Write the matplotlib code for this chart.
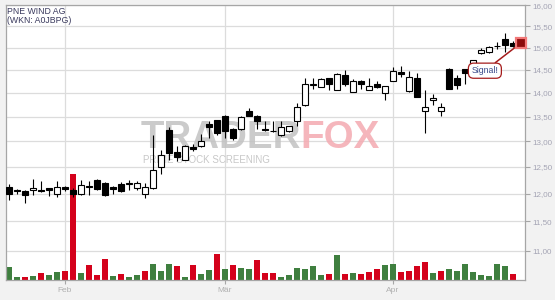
import numpy as np
import matplotlib
matplotlib.use("Agg")
import matplotlib.pyplot as plt
import matplotlib.transforms as mtransforms
from matplotlib.ticker import FixedLocator, FuncFormatter, NullLocator

plt.rcParams["font.family"] = ["Liberation Sans", "DejaVu Sans"]

TITLE = "PNE WIND AG\n(WKN: A0JBPG)"

# daily candles, EUR
OPENS = [12.12, 12.07, 12.04, 12.06, 12.07, 12.10, 11.99, 12.13, 12.06, 11.99,
         12.14, 12.26, 12.20, 12.12, 12.18, 12.17, 12.11, 11.99, 12.10, 12.49,
         13.23, 12.79, 12.64, 12.88, 12.90, 13.35, 13.43, 13.52, 13.25, 13.24,
         13.61, 13.52, 13.25, 13.21, 13.12, 13.21, 13.40, 13.74, 14.17, 14.13,
         14.32, 14.06, 14.38, 14.01, 14.26, 14.06, 14.20, 13.99, 14.26, 14.46,
         14.03, 14.32, 13.62, 13.84, 13.62, 14.52, 14.32, 14.51, 14.50, 14.89,
         14.91, 15.05, 15.19, 15.11]
HIGHS = [12.18, 12.09, 12.07, 12.27, 12.24, 12.11, 12.24, 12.15, 12.10, 12.25,
         12.24, 12.27, 12.21, 12.14, 12.22, 12.25, 12.24, 12.20, 13.12, 12.83,
         13.28, 12.90, 12.92, 12.95, 13.15, 13.41, 13.44, 13.53, 13.26, 13.51,
         13.68, 13.53, 13.41, 13.40, 13.40, 13.31, 13.79, 14.32, 14.32, 14.31,
         14.33, 14.42, 14.50, 14.30, 14.28, 14.33, 14.26, 14.15, 14.57, 14.58,
         14.48, 14.43, 14.06, 13.98, 13.78, 14.54, 14.39, 14.52, 14.73, 14.99,
         15.03, 15.13, 15.35, 15.15]
LOWS = [11.89, 11.99, 11.83, 11.97, 12.03, 11.96, 11.93, 12.04, 11.93, 11.98,
        11.98, 12.07, 11.96, 11.99, 12.03, 12.07, 12.07, 11.92, 12.09, 12.36,
        12.63, 12.61, 12.63, 12.80, 12.89, 13.06, 13.13, 13.07, 13.03, 13.23,
        13.51, 13.25, 13.21, 13.18, 13.11, 13.18, 13.30, 13.73, 14.09, 14.12,
        14.06, 14.05, 14.15, 14.01, 14.09, 14.05, 14.10, 13.85, 14.25, 14.35,
        14.02, 13.91, 13.17, 13.74, 13.51, 14.08, 14.09, 14.18, 14.47, 14.86,
        14.89, 14.98, 14.90, 15.02]
CLOSES = [11.99, 12.04, 11.97, 12.10, 12.05, 12.07, 12.13, 12.08, 11.99, 12.16,
          12.13, 12.08, 11.98, 12.09, 12.04, 12.19, 12.20, 12.12, 12.45, 12.73,
          12.77, 12.70, 12.91, 12.85, 13.01, 13.29, 13.17, 13.21, 13.06, 13.49,
          13.52, 13.41, 13.22, 13.20, 13.28, 13.30, 13.71, 14.18, 14.19, 14.30,
          14.18, 14.41, 14.18, 14.26, 14.18, 14.15, 14.13, 14.14, 14.48, 14.41,
          14.35, 13.92, 13.69, 13.88, 13.70, 14.09, 14.17, 14.42, 14.72, 14.95,
          15.02, 15.03, 15.06, 15.04]
# volume, thousand shares
VOLUMES = [52, 12, 12, 16, 28, 20, 32, 36, 424, 28,
           60, 20, 84, 16, 24, 12, 20, 36, 64, 36,
           64, 56, 12, 60, 24, 40, 104, 44, 60, 48,
           44, 80, 28, 28, 12, 20, 48, 44, 56, 20,
           24, 100, 24, 28, 24, 32, 44, 60, 64, 32,
           36, 56, 72, 28, 36, 44, 36, 64, 32, 20,
           16, 64, 56, 24]

MONTH_POS = [7, 27, 48]
MONTH_LABELS = ["Feb", "Mär", "Apr"]
PRICE_TICKS = [11.0, 11.5, 12.0, 12.5, 13.0, 13.5, 14.0, 14.5, 15.0, 15.5, 16.0]
SIGNAL_PRICE = 15.11

UP_GREEN = "#3f7f3f"
DOWN_RED = "#d4011b"
GRID = "#dcdcdc"
AXIS_GRAY = "#a6a6a6"
LABEL_GRAY = "#a4a4b4"


def main():
    fig = plt.figure(figsize=(5.55, 3.0), dpi=100, facecolor="#f2f2f2")
    ax_vol = fig.add_axes([0.0103, 0.0667, 0.9362, 0.9157], facecolor="white")
    ax = ax_vol.twinx()

    x = np.arange(len(CLOSES))
    o = np.array(OPENS)
    c = np.array(CLOSES)

    # volume bars, coloured by close vs previous close
    vol_colors = [UP_GREEN if i == 0 or c[i] >= c[i - 1] else DOWN_RED for i in x]
    ax_vol.bar(x, VOLUMES, width=0.75, color=vol_colors, zorder=2)
    ax_vol.set_ylim(0, 1098)
    ax_vol.set_xlim(-0.41, 64.54)

    # price axis (log)
    ax.set_yscale("log")
    ax.set_ylim(10.516, 16.005)
    ax.yaxis.set_major_locator(FixedLocator(PRICE_TICKS))
    ax.yaxis.set_minor_locator(NullLocator())
    ax.yaxis.set_major_formatter(FuncFormatter(lambda v, _: f"{v:.2f}".replace(".", ",")))
    ax.tick_params(axis="y", colors=AXIS_GRAY, labelcolor=LABEL_GRAY, labelsize=5.8,
                   length=3.6, width=0.8, pad=1.5)
    for s in ax.spines.values():
        s.set_visible(False)

    # grid: price levels and month starts, drawn under the volume bars
    trans = mtransforms.blended_transform_factory(ax_vol.transAxes, ax.transData)
    for p in PRICE_TICKS:
        ax_vol.plot([0, 1], [p, p], transform=trans, color=GRID, lw=0.9, zorder=0.6)
    ax_vol.set_xticks(MONTH_POS)
    ax_vol.set_xticklabels(MONTH_LABELS)
    ax_vol.grid(axis="x", color=GRID, lw=0.9)
    ax_vol.set_axisbelow(True)
    ax_vol.tick_params(axis="x", colors=AXIS_GRAY, labelcolor="#b0b0b0", labelsize=6,
                       length=3, width=0.8, pad=2)
    ax_vol.tick_params(axis="y", left=False, labelleft=False)
    for s in ax_vol.spines.values():
        s.set_color(AXIS_GRAY)
        s.set_linewidth(0.9)

    # watermark
    ax_vol.text(16.4, 12.87, "TRADER", transform=ax.transData, fontsize=27.7,
                fontweight="bold", color="#c2c2c2", alpha=0.85, zorder=1)
    ax_vol.text(36.4, 12.87, "FOX", transform=ax.transData, fontsize=27.7,
                fontweight="bold", color="#f4aab1", alpha=0.85, zorder=1)
    ax_vol.text(16.8, 12.57, "PRIME STOCK SCREENING", transform=ax.transData,
                fontsize=7.0, color="#c8c8c8", zorder=1)

    # candles
    ax.vlines(x, LOWS, HIGHS, color="black", lw=0.8, zorder=3)
    bottoms = np.minimum(o, c)
    heights = np.maximum(np.abs(c - o), 0.004)
    faces = ["white" if c[i] >= o[i] else "black" for i in x]
    ax.bar(x, heights, bottom=bottoms, width=0.72, color=faces,
           edgecolor="black", linewidth=0.8, zorder=4)

    # signal marker
    sig_x = len(CLOSES)
    ax.annotate("Signal!", xy=(sig_x, SIGNAL_PRICE), xytext=(-26, -20),
                textcoords="offset points", ha="center", va="center",
                fontsize=6.3, color="#3a4a8a", zorder=6,
                bbox=dict(boxstyle="round,pad=0.35,rounding_size=0.6",
                          fc="white", ec="#a51c1c", lw=0.9),
                arrowprops=dict(arrowstyle="-", color="#a51c1c", lw=1.1,
                                shrinkA=0, shrinkB=3))
    ax.plot(sig_x, SIGNAL_PRICE, marker="s", ms=7.5, mfc="#8b0a0a", mec="#f27878",
            mew=1.6, clip_on=False, zorder=7)

    ax_vol.text(0.003, 0.993, TITLE, transform=ax_vol.transAxes, ha="left", va="top",
                fontsize=6.3, color="#3a3a5e", linespacing=1.0, zorder=8)

    fig.savefig("out.png", dpi=100, facecolor=fig.get_facecolor())
    plt.close(fig)


if __name__ == "__main__":
    main()
